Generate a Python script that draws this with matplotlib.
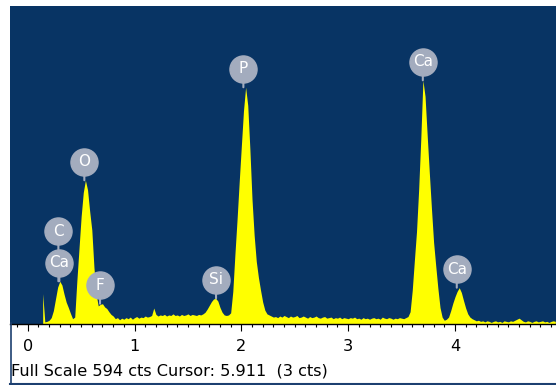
import numpy as np
import matplotlib
matplotlib.use("Agg")
import matplotlib.pyplot as plt
from matplotlib.lines import Line2D
from matplotlib.ticker import MultipleLocator
from matplotlib.transforms import offset_copy

# EDS spectrum, channels every 0.02 keV starting at 0.14 keV
E_START = 0.14
E_STEP = 0.02
COUNTS = [
    56, 3, 4, 6, 11, 24, 46, 68, 79, 72,             # 0.14
    55, 40, 30, 19, 9, 12, 80, 140, 200, 245,        # 0.34
    268, 250, 210, 175, 105, 55, 33, 36, 37, 31,     # 0.54
    28, 22, 17, 14, 9, 11, 7, 10, 8, 11,             # 0.74
    9, 12, 8, 11, 13, 10, 12, 11, 14, 12,            # 0.94
    13, 15, 29, 17, 14, 16, 15, 17, 14, 16,          # 1.14
    15, 18, 15, 16, 14, 17, 15, 16, 18, 15,          # 1.34
    17, 16, 15, 17, 16, 18, 21, 27, 34, 41,          # 1.54
    46, 47, 42, 30, 21, 16, 15, 16, 20, 60,          # 1.74
    130, 195, 265, 332, 398, 442, 408, 326, 232, 165,  # 1.94
    116, 86, 62, 40, 25, 18, 16, 14, 12, 13,         # 2.14
    11, 14, 12, 15, 13, 11, 14, 12, 13, 15,          # 2.34
    11, 12, 14, 12, 10, 13, 11, 12, 14, 11,          # 2.54
    10, 12, 13, 10, 11, 12, 9, 11, 10, 12,           # 2.74
    9, 11, 10, 9, 11, 10, 12, 9, 10, 8,              # 2.94
    11, 9, 10, 8, 10, 11, 9, 10, 8, 12,              # 3.14
    10, 9, 11, 10, 8, 10, 9, 11, 10, 9,              # 3.34
    11, 13, 22, 62, 118, 172, 250, 345, 455, 425,    # 3.54
    352, 282, 215, 152, 108, 66, 30, 12, 6, 8,       # 3.74
    12, 24, 38, 50, 60, 67, 58, 43, 29, 18,          # 3.94
    12, 9, 7, 5, 6, 4, 5, 3, 5, 4,                   # 4.14
    2, 4, 5, 3, 4, 2, 5, 4, 3, 5,                    # 4.34
    4, 6, 8, 10, 7, 4, 3, 5, 4, 2,                   # 4.54
    4, 5, 3, 4, 5, 3, 4, 2, 4, 5,                    # 4.74
    4,                                               # 4.94
]

# element markers: text, line energy (keV), peak height they sit on, stack level
LABEL_TEXT = ["Ca", "C", "O", "F", "Si", "P", "Ca", "Ca"]
LABEL_KEV = [0.296, 0.287, 0.530, 0.677, 1.763, 2.019, 3.699, 4.017]
LABEL_CTS = [79, 79, 268, 37, 47, 442, 455, 67]
LABEL_LEVEL = [0, 1, 0, 0, 0, 0, 0, 0]

FULL_SCALE = 594
FOOTER = "Full Scale 594 cts Cursor: 5.911  (3 cts)"

BG = "#083464"
YELLOW = "#FFFF00"
GRAY = "#A3ACBE"
W, H = 556, 385

energy = E_START + E_STEP * np.arange(len(COUNTS))

fig = plt.figure(figsize=(W / 100, H / 100), dpi=100)
ax = fig.add_axes([10 / W, 61.5 / H, 546 / W, 317.5 / H])
ax.set_facecolor(BG)
ax.fill_between(energy, 0, COUNTS, color=YELLOW, lw=0)

ax.set_xlim(-0.166, 4.946)
ax.set_ylim(0, FULL_SCALE)
ax.set_yticks([])
for s in ("top", "left", "right"):
    ax.spines[s].set_visible(False)
ax.spines["bottom"].set_color("black")
ax.spines["bottom"].set_linewidth(1.0)
ax.xaxis.set_major_locator(MultipleLocator(1))
ax.xaxis.set_minor_locator(MultipleLocator(0.1))
ax.tick_params(axis="x", which="major", length=5, width=0.8, pad=6.5,
               labelsize=11.6, direction="out")
ax.tick_params(axis="x", which="minor", length=2.5, width=0.8, direction="out")

# gray round tags over the peaks
for txt, kev, cts, lvl in zip(LABEL_TEXT, LABEL_KEV, LABEL_CTS, LABEL_LEVEL):
    off = 18.5 + 31.5 * lvl
    ax.annotate("", xy=(kev, cts), xytext=(0, off), textcoords="offset pixels",
                arrowprops=dict(arrowstyle="-", color=GRAY, lw=1.5,
                                shrinkA=0, shrinkB=0),
                annotation_clip=False, zorder=4)
    tr = offset_copy(ax.transData, fig=fig, x=0, y=off, units="dots")
    ax.plot(kev, cts, "o", ms=19.5, mfc=GRAY, mec=GRAY, transform=tr,
            clip_on=False, zorder=5)
    ax.text(kev, cts, txt, transform=tr, ha="center", va="center",
            color="white", fontsize=11, zorder=6)

fig.text(11 / W, 1 - 371 / H, FOOTER, ha="left", va="center", fontsize=11.6)

# window frame lines
fig.add_artist(Line2D([10.5 / W, 10.5 / W], [0, 62 / H], transform=fig.transFigure,
                      color="#1C3F70", lw=1.2))
fig.add_artist(Line2D([10 / W, 1], [1.5 / H, 1.5 / H], transform=fig.transFigure,
                      color="#1C3F70", lw=1.5))

fig.savefig("out.png", dpi=100)
